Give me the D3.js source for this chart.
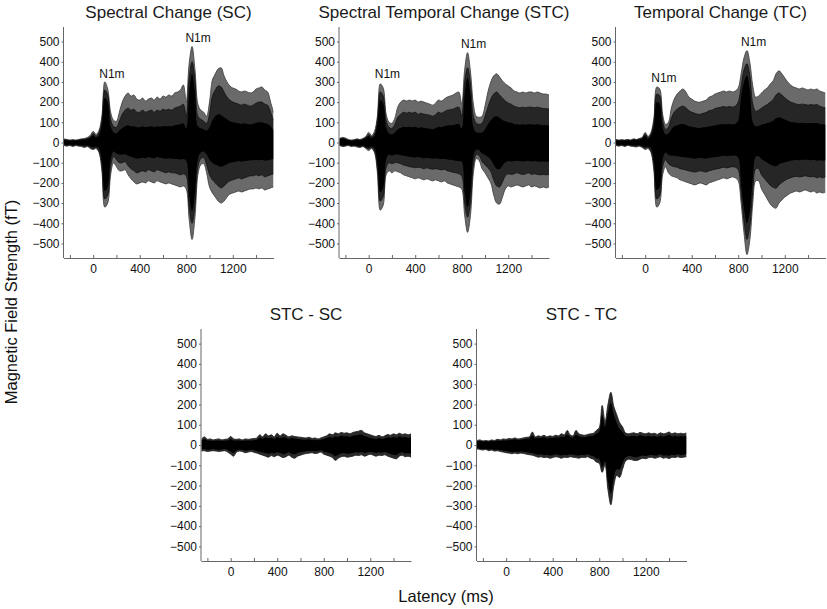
<!DOCTYPE html>
<html>
<head>
<meta charset="utf-8">
<script src="https://cdn.jsdelivr.net/npm/d3@7"></script>
<style>
  body { margin: 0; background: #fff; }
  svg { display: block; font-family: "Liberation Sans", Arial, sans-serif; }
  .axis path, .axis line { stroke: #666; }
  .axis text { font-size: 12px; fill: #111; }
  .title { font-size: 17px; font-weight: normal; fill: #1a1a1a; text-anchor: middle; }
  .label { font-size: 12px; fill: #111; text-anchor: middle; }
  .unit { font-size: 16.5px; fill: #111; text-anchor: middle; }
</style>
</head>
<body>
<div id="svg-container"></div>
<script>
////////////////////////////////////////////////////////////////////
////////////////////////////  Data  ////////////////////////////////
// latency samples (ms), 25 ms apart
const latency = [
  -250, -225, -200, -175, -150, -125, -100, -75, -50, -25,
  0, 25, 50, 75, 100, 125, 150, 175, 200, 225,
  250, 275, 300, 325, 350, 375, 400, 425, 450, 475,
  500, 525, 550, 575, 600, 625, 650, 675, 700, 725,
  750, 775, 800, 825, 850, 875, 900, 925, 950, 975,
  1000, 1025, 1050, 1075, 1100, 1125, 1150, 1175, 1200, 1225,
  1250, 1275, 1300, 1325, 1350, 1375, 1400, 1425, 1450, 1475,
  1500, 1525, 1550
];

const yTicks = [-500, -400, -300, -200, -100, 0, 100, 200, 300, 400, 500];
const xTicks = [-200, 0, 200, 400, 600, 800, 1000, 1200, 1400];
const xLabels = [0, 400, 800, 1200];

// Spectral Change (SC): outer, middle and dense-core envelopes of the channels (fT)
const scOuterHi = [
  18, 15, 12, 14, 12, 15, 18, 20, 25, 35,
  55, 40, 60, 130, 300, 265, 150, 110, 105, 150,
  200, 230, 245, 230, 235, 215, 210, 220, 205, 215,
  220, 210, 225, 215, 230, 225, 235, 230, 245, 250,
  260, 285, 200, 390, 475, 360, 190, 160, 150, 130,
  200, 310, 340, 365, 370, 330, 300, 280, 270, 265,
  255, 250, 255, 250, 245, 250, 265, 270, 275, 260,
  250, 200, 150
];
const scOuterLo = [
  -15, -18, -15, -20, -15, -18, -20, -25, -20, -30,
  -35, -30, -50, -140, -320, -300, -160, -100, -120, -140,
  -140, -135, -160, -180, -195, -205, -200, -195, -200, -190,
  -195, -200, -190, -195, -200, -205, -200, -205, -210, -215,
  -220, -215, -230, -380, -480, -370, -160, -110, -105, -150,
  -220, -250, -270, -290, -300, -290, -270, -255, -250, -245,
  -240, -245, -240, -235, -230, -230, -225, -230, -225, -235,
  -230, -225, -220
];
const scMidHi = [
  14, 12, 10, 12, 10, 12, 15, 16, 20, 28,
  45, 32, 48, 110, 260, 235, 115, 80, 75, 105,
  140, 160, 170, 160, 165, 150, 150, 160, 150, 155,
  160, 150, 160, 155, 165, 160, 165, 160, 170, 175,
  180, 190, 130, 320, 400, 310, 130, 115, 105, 95,
  140, 230, 260, 280, 275, 250, 225, 210, 200, 195,
  190, 185, 190, 185, 180, 185, 195, 200, 200, 190,
  185, 150, 110
];
const scMidLo = [
  -12, -15, -12, -16, -12, -15, -16, -20, -16, -25,
  -30, -25, -42, -115, -280, -260, -120, -70, -85, -100,
  -100, -95, -115, -130, -140, -150, -145, -140, -145, -135,
  -140, -145, -135, -140, -145, -150, -145, -150, -150, -155,
  -160, -155, -165, -320, -400, -310, -120, -80, -75, -110,
  -160, -185, -200, -215, -225, -215, -200, -190, -185, -180,
  -175, -180, -175, -170, -165, -165, -160, -165, -160, -170,
  -165, -160, -155
];
const scCoreHi = [
  12, 10, 9, 10, 9, 10, 12, 14, 18, 24,
  35, 25, 35, 90, 220, 200, 80, 50, 45, 60,
  70, 80, 85, 80, 80, 75, 75, 80, 75, 78,
  80, 75, 80, 78, 82, 80, 82, 80, 85, 88,
  90, 95, 70, 250, 340, 250, 80, 70, 65, 60,
  75, 110, 130, 140, 135, 125, 115, 105, 100, 98,
  95, 92, 95, 92, 90, 92, 98, 100, 100, 95,
  92, 80, 60
];
const scCoreLo = [
  -10, -12, -10, -13, -10, -12, -13, -16, -14, -20,
  -24, -20, -30, -95, -240, -220, -85, -45, -55, -60,
  -60, -58, -65, -70, -75, -80, -78, -75, -78, -72,
  -75, -78, -72, -75, -78, -80, -78, -80, -80, -82,
  -85, -82, -90, -260, -340, -250, -80, -50, -45, -60,
  -85, -100, -110, -115, -120, -115, -108, -100, -98, -95,
  -92, -95, -92, -90, -88, -88, -85, -88, -85, -90,
  -88, -85, -82
];

// Spectral Temporal Change (STC)
const stcOuterHi = [
  20, 25, 22, 15, 12, 14, 18, 15, 20, 30,
  50, 35, 55, 130, 290, 270, 140, 100, 95, 120,
  175, 200, 210, 205, 210, 205, 210, 200, 205, 200,
  195, 190, 185, 195, 210, 205, 215, 225, 230, 235,
  245, 250, 190, 360, 445, 350, 190, 130, 125, 130,
  180, 250, 300, 330, 340, 325, 305, 290, 280, 270,
  255, 250, 245, 250, 245, 250, 250, 245, 250, 245,
  240, 240, 235
];
const stcOuterLo = [
  -15, -20, -18, -15, -20, -18, -22, -25, -20, -30,
  -40, -30, -50, -150, -335, -310, -160, -140, -150, -140,
  -145, -150, -160, -165, -170, -175, -180, -175, -180, -185,
  -180, -185, -190, -185, -190, -195, -190, -200, -205, -210,
  -215, -220, -230, -360, -445, -360, -150, -80, -90, -130,
  -150, -175, -200, -260, -300, -305, -270, -230, -215, -220,
  -215, -210, -215, -220, -215, -210, -220, -215, -220, -225,
  -220, -225, -220
];
const stcMidHi = [
  18, 22, 18, 12, 10, 12, 15, 12, 17, 25,
  40, 28, 42, 110, 250, 230, 110, 75, 70, 90,
  125, 140, 150, 145, 150, 145, 150, 140, 145, 140,
  138, 135, 130, 138, 150, 145, 152, 160, 162, 165,
  172, 175, 130, 300, 370, 290, 130, 95, 90, 95,
  130, 175, 215, 240, 250, 235, 220, 205, 195, 190,
  180, 175, 172, 175, 172, 175, 175, 172, 175, 172,
  168, 168, 165
];
const stcMidLo = [
  -12, -17, -15, -12, -17, -15, -18, -21, -17, -25,
  -32, -25, -42, -125, -290, -265, -125, -100, -105, -100,
  -100, -105, -112, -115, -120, -122, -125, -122, -125, -130,
  -125, -130, -132, -130, -132, -136, -132, -140, -143, -147,
  -150, -155, -165, -300, -370, -300, -110, -60, -65, -95,
  -110, -125, -145, -185, -215, -220, -195, -165, -155, -158,
  -155, -150, -155, -158, -155, -150, -158, -155, -158, -160,
  -158, -160, -158
];
const stcCoreHi = [
  16, 20, 16, 11, 9, 10, 13, 11, 15, 22,
  32, 22, 32, 90, 210, 195, 75, 45, 40, 50,
  65, 72, 78, 75, 78, 75, 78, 72, 75, 72,
  70, 68, 66, 70, 78, 75, 80, 84, 85, 86,
  90, 92, 70, 240, 320, 240, 75, 50, 48, 50,
  65, 90, 110, 125, 130, 122, 112, 105, 100, 98,
  92, 90, 88, 90, 88, 90, 90, 88, 90, 88,
  86, 86, 84
];
const stcCoreLo = [
  -10, -15, -13, -10, -15, -13, -16, -19, -15, -22,
  -26, -20, -30, -100, -245, -225, -85, -60, -65, -60,
  -60, -62, -66, -68, -70, -72, -75, -72, -75, -78,
  -75, -78, -80, -78, -80, -82, -80, -84, -86, -88,
  -90, -92, -95, -245, -320, -250, -70, -35, -38, -55,
  -62, -72, -85, -110, -130, -132, -115, -98, -92, -94,
  -92, -90, -92, -94, -92, -90, -94, -92, -94, -95,
  -94, -95, -94
];

// Temporal Change (TC)
const tcOuterHi = [
  15, 12, 14, 12, 15, 12, 18, 15, 20, 25,
  50, 30, 50, 120, 275, 265, 140, 90, 100, 170,
  215, 240, 255, 265, 250, 225, 215, 205, 200, 200,
  205, 210, 225, 230, 240, 245, 250, 255, 250, 255,
  250, 255, 270, 340, 420, 455, 395, 280, 225, 230,
  245, 260, 270, 290, 305, 340, 355, 340, 320, 300,
  285, 275, 270, 265, 270, 265, 260, 265, 260, 265,
  255, 250, 245
];
const tcOuterLo = [
  -15, -18, -15, -20, -14, -18, -20, -22, -18, -25,
  -35, -30, -50, -140, -320, -300, -160, -120, -150, -165,
  -170, -175, -185, -190, -195, -200, -205, -210, -205, -200,
  -205, -210, -200, -195, -190, -185, -180, -175, -180, -175,
  -170, -175, -190, -300, -450, -555, -480, -300, -190, -190,
  -230, -255, -280, -305, -320, -325, -300, -285, -270, -260,
  -250, -245, -240, -245, -240, -235, -240, -245, -240, -250,
  -245, -250, -245
];
const tcMidHi = [
  13, 10, 12, 10, 13, 10, 15, 13, 17, 22,
  42, 25, 42, 100, 240, 230, 110, 65, 75, 120,
  150, 165, 175, 180, 172, 158, 150, 145, 140, 140,
  145, 148, 158, 160, 168, 172, 175, 178, 175, 178,
  175, 180, 200, 280, 360, 390, 330, 190, 155, 160,
  170, 180, 188, 200, 212, 235, 245, 235, 222, 210,
  200, 195, 190, 188, 190, 188, 185, 188, 185, 188,
  180, 175, 172
];
const tcMidLo = [
  -12, -15, -12, -17, -12, -15, -17, -18, -15, -21,
  -28, -25, -42, -115, -280, -262, -120, -85, -105, -115,
  -120, -122, -130, -132, -136, -140, -144, -146, -144, -140,
  -144, -146, -140, -136, -132, -130, -126, -122, -126, -122,
  -120, -122, -135, -250, -390, -480, -410, -240, -130, -130,
  -160, -178, -195, -212, -222, -226, -210, -198, -188, -180,
  -175, -170, -168, -170, -168, -165, -168, -170, -168, -175,
  -170, -175, -170
];
const tcCoreHi = [
  11, 9, 10, 9, 11, 9, 13, 11, 15, 19,
  32, 18, 32, 80, 200, 190, 75, 40, 45, 65,
  80, 85, 90, 92, 88, 80, 78, 75, 72, 72,
  75, 76, 80, 82, 86, 88, 90, 92, 90, 92,
  90, 92, 110, 230, 300, 330, 260, 100, 80, 82,
  88, 92, 96, 102, 108, 120, 125, 120, 114, 108,
  102, 100, 98, 96, 98, 96, 95, 96, 95, 96,
  92, 90, 88
];
const tcCoreLo = [
  -10, -13, -10, -14, -10, -13, -14, -15, -13, -18,
  -22, -20, -30, -95, -235, -220, -85, -50, -62, -65,
  -66, -68, -70, -72, -74, -75, -78, -80, -78, -76,
  -78, -80, -76, -74, -72, -70, -68, -66, -68, -66,
  -65, -66, -75, -210, -330, -400, -340, -180, -70, -68,
  -82, -92, -100, -110, -115, -118, -108, -102, -98, -94,
  -90, -88, -86, -88, -86, -85, -86, -88, -86, -90,
  -88, -90, -88
];

// STC - SC difference
const stcScOuterHi = [
  30, 40, 28, 30, 25, 28, 30, 25, 28, 30,
  42, 30, 28, 30, 25, 30, 28, 30, 32, 35,
  50, 40, 55, 45, 50, 40, 58, 45, 55, 48,
  40, 45, 42, 40, 38, 36, 35, 38, 32, 35,
  30, 35, 40, 45, 55, 50, 60, 55, 62, 58,
  60, 55, 62, 65, 68, 72, 60, 55, 50, 45,
  42, 48, 40, 45, 52, 48, 55, 50, 58, 52,
  55, 50, 55
];
const stcScOuterLo = [
  -30, -28, -32, -30, -28, -30, -32, -30, -28, -35,
  -45, -55, -35, -30, -32, -38, -35, -32, -36, -40,
  -45, -50, -55, -60, -52, -58, -50, -55, -62, -58,
  -50, -60, -65, -55, -50, -45, -42, -40, -38, -42,
  -40, -35, -45, -50, -55, -62, -76, -65, -58, -55,
  -60, -58, -55, -50, -52, -48, -55, -50, -45, -50,
  -55, -50, -52, -48, -55, -60, -65, -68, -55, -50,
  -58, -55, -60
];
const stcScCoreHi = [
  22, 28, 22, 22, 20, 22, 22, 20, 22, 22,
  30, 22, 22, 22, 20, 22, 22, 22, 24, 26,
  36, 30, 38, 34, 36, 30, 40, 34, 38, 36,
  30, 34, 32, 30, 28, 26, 26, 28, 24, 26,
  24, 26, 30, 34, 40, 36, 42, 40, 45, 42,
  44, 40, 45, 48, 50, 52, 44, 40, 36, 32,
  30, 35, 30, 33, 38, 35, 40, 36, 42, 38,
  40, 36, 40
];
const stcScCoreLo = [
  -22, -20, -24, -22, -20, -22, -24, -22, -20, -25,
  -32, -40, -26, -22, -24, -28, -26, -24, -26, -30,
  -34, -36, -40, -44, -38, -42, -36, -40, -45, -42,
  -36, -44, -46, -40, -36, -33, -31, -30, -28, -31,
  -30, -26, -33, -36, -40, -45, -55, -48, -42, -40,
  -44, -42, -40, -36, -38, -35, -40, -36, -33, -36,
  -40, -36, -38, -35, -40, -44, -48, -50, -40, -36,
  -42, -40, -44
];

// STC - TC difference
const stcTcOuterHi = [
  22, 25, 20, 22, 20, 25, 22, 28, 25, 30,
  28, 32, 30, 35, 30, 32, 35, 38, 40, 64,
  40, 45, 42, 48, 40, 45, 42, 48, 45, 55,
  50, 72, 50, 45, 72, 55, 50, 48, 52, 55,
  58, 72, 85, 195, 115, 200, 260, 190, 150, 110,
  90, 60, 55, 58, 60, 55, 62, 58, 55, 60,
  55, 58, 52, 60, 55, 58, 64, 55, 60, 55,
  58, 55, 60
];
const stcTcOuterLo = [
  -20, -22, -25, -22, -28, -25, -30, -28, -32, -35,
  -38, -40, -43, -40, -43, -40, -42, -45, -48, -50,
  -55, -60, -58, -62, -60, -65, -62, -58, -60, -65,
  -60, -62, -58, -60, -62, -65, -60, -62, -58, -65,
  -70, -84, -90, -135, -100, -220, -295, -200, -150, -160,
  -120, -80, -70, -72, -76, -76, -70, -65, -68, -62,
  -60, -65, -62, -58, -65, -62, -67, -60, -62, -58,
  -62, -60, -58
];
const stcTcCoreHi = [
  18, 20, 17, 18, 17, 20, 18, 22, 20, 24,
  22, 25, 24, 28, 24, 26, 28, 30, 32, 45,
  32, 36, 34, 38, 32, 36, 34, 38, 36, 42,
  40, 52, 40, 36, 52, 42, 40, 38, 42, 44,
  46, 55, 65, 150, 90, 160, 210, 150, 110, 80,
  65, 46, 42, 44, 46, 42, 48, 44, 42, 46,
  42, 44, 40, 46, 42, 44, 50, 42, 46, 42,
  44, 42, 46
];
const stcTcCoreLo = [
  -16, -18, -20, -18, -22, -20, -24, -22, -25, -28,
  -30, -32, -34, -32, -34, -32, -33, -35, -38, -40,
  -44, -48, -46, -50, -48, -52, -50, -46, -48, -52,
  -48, -50, -46, -48, -50, -52, -48, -50, -46, -52,
  -55, -65, -70, -110, -80, -180, -240, -160, -120, -120,
  -90, -62, -55, -56, -60, -60, -55, -52, -54, -50,
  -48, -52, -50, -46, -52, -50, -53, -48, -50, -46,
  -50, -48, -46
];

// N1m annotations: [latency, field strength]
const scPeaks = [[110, 300], [850, 478]];
const stcPeaks = [[110, 300], [850, 448]];
const tcPeaks = [[110, 282], [880, 458]];

////////////////////////////////////////////////////////////////////
////////////////////////////  Init  ////////////////////////////////
const width = 827;
const height = 609;

const svg = d3
  .select("#svg-container")
  .append("svg")
  .attr("width", width)
  .attr("height", height);

const defs = svg.append("defs");

const panels = [
  { title: "Spectral Change (SC)", x0: 63.5, top: 27, bottom: 258,
    outer: [scOuterLo, scOuterHi], mid: [scMidLo, scMidHi], core: [scCoreLo, scCoreHi], peaks: scPeaks },
  { title: "Spectral Temporal Change (STC)", x0: 339, top: 27, bottom: 258,
    outer: [stcOuterLo, stcOuterHi], mid: [stcMidLo, stcMidHi], core: [stcCoreLo, stcCoreHi], peaks: stcPeaks },
  { title: "Temporal Change (TC)", x0: 615.5, top: 27, bottom: 258,
    outer: [tcOuterLo, tcOuterHi], mid: [tcMidLo, tcMidHi], core: [tcCoreLo, tcCoreHi], peaks: tcPeaks },
  { title: "STC - SC", x0: 201, top: 329, bottom: 561,
    outer: [stcScOuterLo, stcScOuterHi], mid: null, core: [stcScCoreLo, stcScCoreHi], peaks: [] },
  { title: "STC - TC", x0: 476.5, top: 329, bottom: 561,
    outer: [stcTcOuterLo, stcTcOuterHi], mid: null, core: [stcTcCoreLo, stcTcCoreHi], peaks: [] }
];

const plotWidth = 210;

panels.forEach((p, k) => {
  const xScale = d3.scaleLinear().domain([-255, 1550]).range([p.x0, p.x0 + plotWidth]);
  const yScale = d3.scaleLinear().domain([-572, 572]).range([p.bottom, p.top]);

  const g = svg.append("g").attr("class", "panel");

  defs
    .append("clipPath")
    .attr("id", "clip" + k)
    .append("rect")
    .attr("x", p.x0)
    .attr("y", p.top)
    .attr("width", plotWidth)
    .attr("height", p.bottom - p.top);

  const band = (lo, hi) =>
    d3
      .area()
      .x((d, i) => xScale(latency[i]))
      .y0((d, i) => yScale(lo[i]))
      .y1((d, i) => yScale(hi[i]))
      .curve(d3.curveCatmullRom)(latency);

  const trace = (vals) =>
    d3
      .line()
      .x((d, i) => xScale(latency[i]))
      .y((d) => yScale(d))
      .curve(d3.curveCatmullRom)(vals);

  const traces = g.append("g").attr("clip-path", `url(#clip${k})`);

  // outer envelope (sparse traces)
  traces
    .append("path")
    .attr("d", band(p.outer[0], p.outer[1]))
    .attr("fill", p.mid ? "#6a6a6a" : "#2a2a2a");
  p.outer.forEach((vals) => {
    traces
      .append("path")
      .attr("d", trace(vals))
      .attr("fill", "none")
      .attr("stroke", p.mid ? "#444" : "#222")
      .attr("stroke-width", 0.9);
  });

  // middle envelope
  if (p.mid) {
    traces
      .append("path")
      .attr("d", band(p.mid[0], p.mid[1]))
      .attr("fill", "#262626");
    p.mid.forEach((vals) => {
      traces
        .append("path")
        .attr("d", trace(vals))
        .attr("fill", "none")
        .attr("stroke", "#111")
        .attr("stroke-width", 0.8);
    });
  }

  // dense core
  traces
    .append("path")
    .attr("d", band(p.core[0], p.core[1]))
    .attr("fill", "#000");

  // axes
  const yAxis = d3
    .axisLeft(yScale)
    .tickValues(yTicks)
    .tickSizeInner(2)
    .tickSizeOuter(0)
    .tickPadding(2);

  const xAxis = d3
    .axisBottom(xScale)
    .tickValues(xTicks)
    .tickSizeInner(-3)
    .tickSizeOuter(0)
    .tickPadding(6)
    .tickFormat((d) => (xLabels.includes(d) ? d : ""));

  g.append("g")
    .attr("class", "axis")
    .attr("transform", `translate(${p.x0}, 0)`)
    .call(yAxis)
    .call((a) => a.select(".domain").attr("d", `M0,${p.top}V${p.bottom}`));

  g.append("g")
    .attr("class", "axis")
    .attr("transform", `translate(0, ${p.bottom})`)
    .call(xAxis);

  g.selectAll(".axis text").attr("font-family", null).attr("font-size", null);

  // title
  g.append("text")
    .attr("class", "title")
    .attr("x", p.x0 + plotWidth / 2)
    .attr("y", p.top - 9)
    .text(p.title);

  // N1m labels
  g.selectAll(".n1m")
    .data(p.peaks)
    .enter()
    .append("text")
    .attr("class", "label")
    .attr("x", (d) => xScale(d[0]) + 6)
    .attr("y", (d) => yScale(d[1]) - 4)
    .text("N1m");
});

// Units
svg
  .append("text")
  .attr("class", "unit")
  .attr("transform", "translate(17, 302) rotate(-90)")
  .text("Magnetic Field Strength (fT)");

svg
  .append("text")
  .attr("class", "unit")
  .attr("x", 446)
  .attr("y", 602)
  .text("Latency (ms)");
</script>
</body>
</html>
